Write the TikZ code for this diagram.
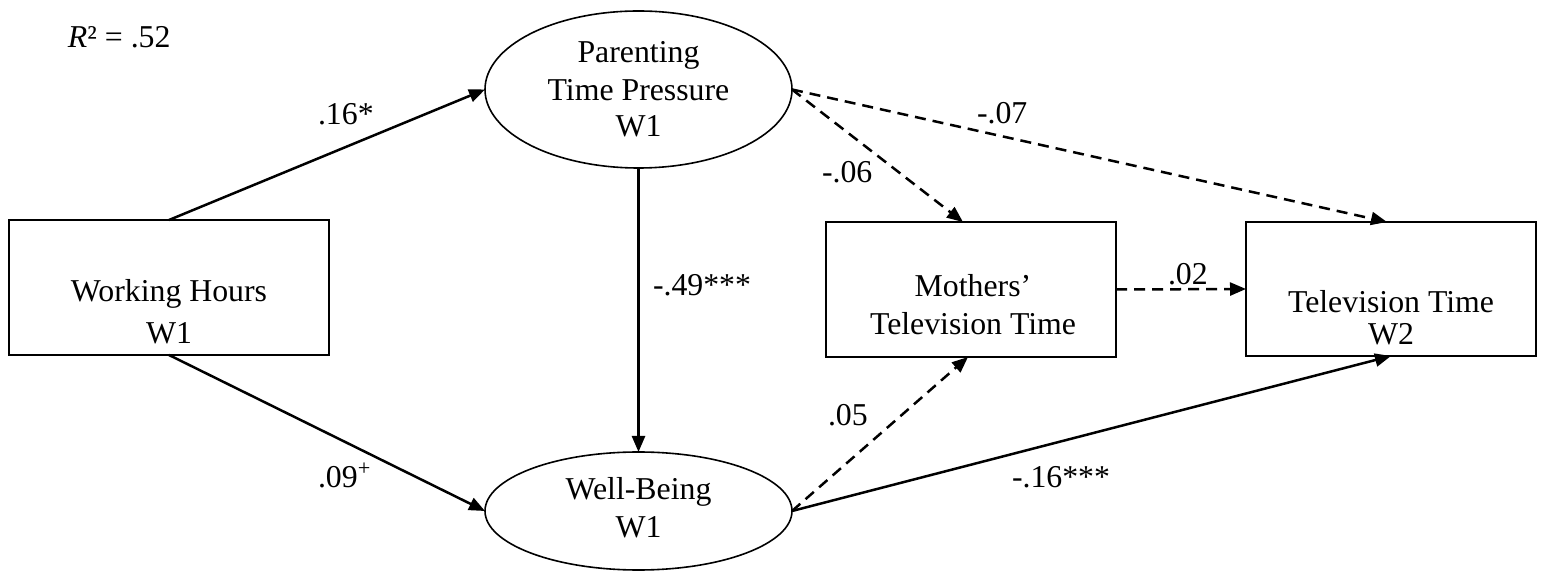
\documentclass[tikz,border=0pt]{standalone}
\usepackage{fontspec}
\setmainfont{Liberation Serif}
\usetikzlibrary{arrows.meta,shapes.geometric,calc}

\begin{document}
\begin{tikzpicture}[x=0.5pt,y=-0.5pt,
  every node/.style={font=\fontsize{15.9}{19}\selectfont, inner sep=0pt, outer sep=0pt},
  varbox/.style={draw, line width=0.9pt, rectangle},
  latent/.style={draw, line width=0.8pt, ellipse, minimum width=153.5pt},
  txt/.style={anchor=base},
  coef/.style={anchor=base west},
  path/.style={-{Triangle[length=8pt,width=6.5pt]}, line width=1.25pt},
  nspath/.style={path, dash pattern=on 5.5pt off 3.5pt},
]
\useasboundingbox (0,0) rectangle (1543,571);

% observed variables
\node[varbox, minimum width=160pt, minimum height=67.5pt] (wh) at (169,287.5) {};
\node[varbox, minimum width=145pt, minimum height=67.5pt] (mt) at (971,289.5) {};
\node[varbox, minimum width=145pt, minimum height=67pt]   (tv) at (1391,289) {};

% latent variables
\node[latent, minimum height=78.5pt] (ptp) at (638.5,89.5) {};
\node[latent, minimum height=59pt]   (wb)  at (638.5,511) {};

% variable names
\node[txt] (whA) at (169,302) {Working Hours};
\node[txt] (whB) at (169,344) {W1};
\node[txt] (ptpA) at (638.5,63) {Parenting};
\node[txt] (ptpB) at (638.5,101) {Time Pressure};
\node[txt] (ptpC) at (638.5,137) {W1};
\node[txt] (wbA) at (638.5,500) {Well-Being};
\node[txt] (wbB) at (638.5,538) {W1};
\node[txt] (mtA) at (973,297) {Mothers’};
\node[txt] (mtB) at (973,335) {Television Time};
\node[txt] (tvA) at (1391,313) {Television Time};
\node[txt] (tvB) at (1391,345) {W2};

% paths
\draw[path] (wh.north) -- (ptp.west);
\draw[path] (wh.south) -- (wb.west);
\draw[path] (ptp.south) -- (wb.north);
\draw[nspath] (ptp.east) -- ($(mt.north)+(-8,0)$);
\draw[nspath] (ptp.east) -- ($(tv.north)+(-4,0)$);
\draw[nspath] (mt.east) -- (tv.west);
\draw[nspath] (wb.east) -- ($(mt.south)+(-3,0)$);
\draw[path] (wb.east) -- (tv.south);

% coefficients
\node[coef] (r2) at (68,48) {\textit{R}² = .52};
\node[coef] (c1) at (318,125) {.16*};
\node[coef] (c2) at (318,488) {.09\textsuperscript{+}};
\node[coef] (c3) at (653,296) {-.49***};
\node[coef] (c4) at (822,183) {-.06};
\node[coef] (c5) at (977,124) {-.07};
\node[coef] (c6) at (1168,285) {.02};
\node[coef] (c7) at (828,426) {.05};
\node[coef] (c8) at (1012,488) {-.16***};
\end{tikzpicture}
\end{document}
